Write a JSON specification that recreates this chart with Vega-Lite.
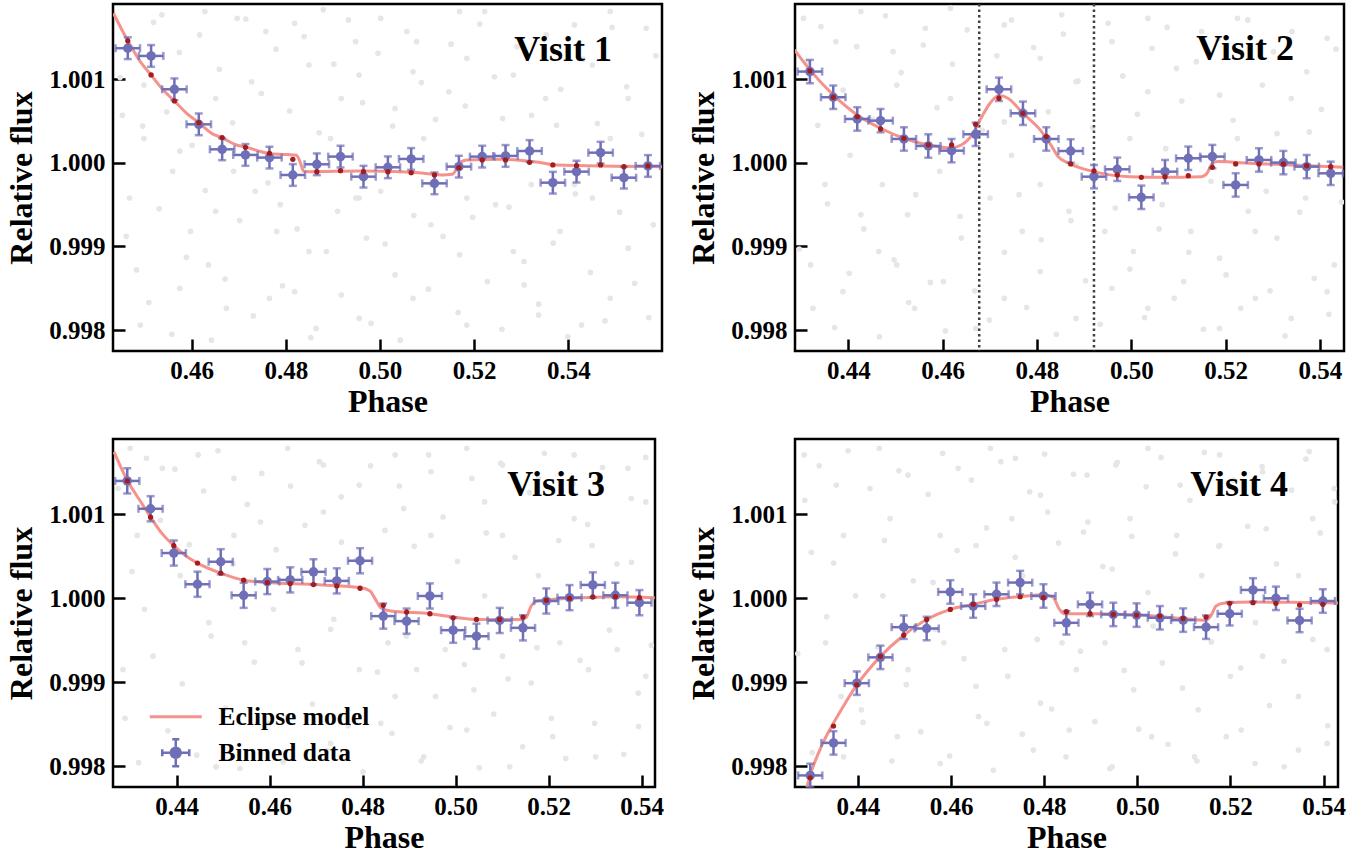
{
  "$schema": "https://vega.github.io/schema/vega-lite/v6.json",
  "padding": {"left": 4, "top": 1, "right": 5, "bottom": 0},
  "background": "white",
  "config": {
    "view": {"stroke": "black", "strokeWidth": 2.5},
    "font": "Liberation Serif",
    "axis": {"domain": false, "grid": false, "ticks": true, "tickColor": "black", "tickWidth": 2.5, "tickSize": -12,
      "labelFont": "Liberation Serif", "labelFontWeight": "bold", "labelFontSize": 25, "labelColor": "black", "labelFlush": false,
      "titleFont": "Liberation Serif", "titleFontWeight": "bold", "titleFontSize": 32, "titleColor": "black"},
    "axisX": {"labelPadding": 19, "titlePadding": 3},
    "axisY": {"labelPadding": 20, "titlePadding": 10},
    "title": {"font": "Liberation Serif", "fontWeight": "bold", "fontSize": 36, "color": "black", "anchor": "end", "offset": -65, "dx": -50, "baseline": "alphabetic", "frame": "group"}
  },
  "resolve": {"scale": {"color": "independent"}, "legend": {"color": "independent"}},
  "bounds": "flush",
  "columns": 2,
  "spacing": {"row": 88, "column": 133},
  "datasets": {
    "gray1": [
      {"x":0.45368,"y":1.00177},{"x":0.46282,"y":1.00181},{"x":0.46968,"y":1.00173},{"x":0.47577,"y":1.00157},{"x":0.48187,"y":1.00167},{"x":0.48796,"y":1.00183},{"x":0.49482,"y":1.00145},{"x":0.50015,"y":1.00173},{"x":0.50777,"y":1.00145},{"x":0.51691,"y":1.00181},{"x":0.52225,"y":1.00181},{"x":0.52834,"y":1.00105},{"x":0.5352,"y":1.00077},{"x":0.5413,"y":1.00165},{"x":0.54891,"y":1.00181},{"x":0.55654,"y":1.00161},{"x":0.4453,"y":1.00057},{"x":0.44987,"y":1.00029},{"x":0.45596,"y":0.9999},{"x":0.44682,"y":0.99958},{"x":0.45977,"y":0.99918},{"x":0.46511,"y":0.99942},{"x":0.47349,"y":0.99966},{"x":0.47806,"y":0.99918},{"x":0.48492,"y":0.99894},{"x":0.49101,"y":0.99942},{"x":0.49711,"y":0.9991},{"x":0.5032,"y":0.99866},{"x":0.51082,"y":0.99926},{"x":0.51691,"y":0.9989},{"x":0.52454,"y":0.9995},{"x":0.53063,"y":0.99854},{"x":0.53825,"y":0.99918},{"x":0.54511,"y":0.99958},{"x":0.55273,"y":0.99898},{"x":0.55806,"y":0.99926},{"x":0.45749,"y":0.9985},{"x":0.46739,"y":0.99826},{"x":0.47653,"y":0.99838},{"x":0.48644,"y":0.99802},{"x":0.49558,"y":0.99814},{"x":0.50701,"y":0.99838},{"x":0.51844,"y":0.99806},{"x":0.53368,"y":0.99818},{"x":0.54891,"y":0.99838},{"x":0.44911,"y":0.99806},{"x":0.46358,"y":0.99878},{"x":0.48187,"y":0.99846},{"x":0.50015,"y":0.99966},{"x":0.52834,"y":0.99894},{"x":0.54282,"y":0.99806},{"x":0.49177,"y":1.00077},{"x":0.5032,"y":1.00065},{"x":0.51463,"y":1.00085},{"x":0.52606,"y":1.00053},{"x":0.53749,"y":1.00045},{"x":0.55273,"y":1.00077},{"x":0.47273,"y":1.00097},{"x":0.48492,"y":1.00117},{"x":0.49558,"y":1.00105},{"x":0.50701,"y":1.00109},{"x":0.51844,"y":1.00125},{"x":0.54511,"y":1.00117},{"x":0.44987,"y":1.00093},{"x":0.46511,"y":1.00077},{"x":0.48949,"y":1.00029},{"x":0.5093,"y":1.00029},{"x":0.54891,"y":1.00029},{"x":0.53215,"y":0.99974},{"x":0.47882,"y":0.9995},{"x":0.46892,"y":0.9999},{"x":0.49558,"y":0.99958},{"x":0.51844,"y":0.99958},{"x":0.5413,"y":0.99974},{"x":0.45749,"y":1.00014},{"x":0.51082,"y":0.99974},
      {"x":0.4448,"y":1.00102},{"x":0.4461,"y":0.99912},{"x":0.4472,"y":1.00138},{"x":0.4483,"y":0.99872},{"x":0.4496,"y":1.00044},{"x":0.4509,"y":0.99833},{"x":0.4519,"y":1.00168},{"x":0.4531,"y":0.99945},{"x":0.4547,"y":1.00061},{"x":0.4558,"y":0.99795},{"x":0.4574,"y":1.00132},{"x":0.4589,"y":0.99887},{"x":0.4601,"y":1.00021},{"x":0.4617,"y":1.00153},{"x":0.4629,"y":0.99967},{"x":0.4642,"y":0.99788},{"x":0.4659,"y":1.00112},{"x":0.4671,"y":0.99861},{"x":0.4687,"y":1.00048},{"x":0.4702,"y":0.99931},{"x":0.4715,"y":1.00172},{"x":0.4731,"y":0.99817},{"x":0.4748,"y":1.00083},{"x":0.4762,"y":0.99976},{"x":0.4779,"y":1.00136},{"x":0.4793,"y":0.99853},{"x":0.4808,"y":1.00062},{"x":0.4824,"y":0.99921},{"x":0.4839,"y":1.00151},{"x":0.4853,"y":0.99791},{"x":0.4871,"y":1.00036},{"x":0.4886,"y":0.99894},{"x":0.4902,"y":1.00118},{"x":0.4918,"y":0.99842},{"x":0.4933,"y":1.00171},{"x":0.4949,"y":0.99958},{"x":0.4963,"y":1.00072},{"x":0.4981,"y":0.99808},{"x":0.4996,"y":1.00131},{"x":0.5011,"y":0.99903},{"x":0.5027,"y":1.00044},{"x":0.5043,"y":0.99788},{"x":0.5057,"y":1.00157},{"x":0.5072,"y":0.99937},{"x":0.5088,"y":1.00096},{"x":0.5103,"y":0.99849},{"x":0.5118,"y":1.00052},{"x":0.5134,"y":0.99912},{"x":0.5151,"y":1.00142},{"x":0.5166,"y":0.99821},{"x":0.5181,"y":1.00068},{"x":0.5197,"y":0.99935},{"x":0.5212,"y":1.00166},{"x":0.5228,"y":0.99858},{"x":0.5243,"y":1.00103},{"x":0.5259,"y":0.99801},{"x":0.5274,"y":0.99947},{"x":0.5291,"y":1.00139},{"x":0.5306,"y":0.99882},{"x":0.5322,"y":1.00057},{"x":0.5337,"y":0.99831},{"x":0.5353,"y":1.00153},{"x":0.5368,"y":0.99904},{"x":0.5384,"y":1.00088},{"x":0.5399,"y":0.99792},{"x":0.5415,"y":0.99963},{"x":0.5431,"y":1.00124},{"x":0.5447,"y":0.99869},{"x":0.5462,"y":1.00047},{"x":0.5478,"y":0.99811},{"x":0.5493,"y":1.00162},{"x":0.5509,"y":0.99941},{"x":0.5524,"y":1.00091},{"x":0.5541,"y":0.99856},{"x":0.5556,"y":1.00034},{"x":0.5571,"y":0.99815},{"x":0.5586,"y":1.00128}
    ],
    "gray2": [
      {"x":0.43049,"y":1.00173},{"x":0.43734,"y":1.00145},{"x":0.44266,"y":1.00181},{"x":0.4495,"y":1.00133},{"x":0.45635,"y":1.00161},{"x":0.46167,"y":1.00185},{"x":0.47308,"y":1.00165},{"x":0.48069,"y":1.00125},{"x":0.48525,"y":1.00177},{"x":0.4959,"y":1.00145},{"x":0.5035,"y":1.00173},{"x":0.50958,"y":1.00113},{"x":0.51491,"y":1.00157},{"x":0.52251,"y":1.00173},{"x":0.53012,"y":1.00133},{"x":0.54153,"y":1.00149},{"x":0.43353,"y":1.00045},{"x":0.44038,"y":1.00009},{"x":0.44722,"y":0.99974},{"x":0.45255,"y":0.99938},{"x":0.45939,"y":0.9999},{"x":0.46395,"y":0.9991},{"x":0.47004,"y":0.99958},{"x":0.4746,"y":1.00009},{"x":0.48069,"y":0.99974},{"x":0.48677,"y":0.99942},{"x":0.49437,"y":0.99918},{"x":0.50046,"y":0.99894},{"x":0.50654,"y":0.9995},{"x":0.51263,"y":0.99918},{"x":0.51871,"y":0.99886},{"x":0.52479,"y":0.99942},{"x":0.53088,"y":0.9991},{"x":0.53696,"y":0.99958},{"x":0.54305,"y":0.99878},{"x":0.43201,"y":0.99878},{"x":0.43886,"y":0.99846},{"x":0.44646,"y":0.99894},{"x":0.45407,"y":0.99826},{"x":0.46015,"y":0.99858},{"x":0.467,"y":0.99802},{"x":0.47308,"y":0.99838},{"x":0.48069,"y":0.9987},{"x":0.48829,"y":0.99814},{"x":0.4959,"y":0.9985},{"x":0.5035,"y":0.99826},{"x":0.51111,"y":0.99858},{"x":0.51871,"y":0.99802},{"x":0.52632,"y":0.99838},{"x":0.53392,"y":0.99814},{"x":0.54153,"y":0.99846},{"x":0.45027,"y":1.00093},{"x":0.46167,"y":1.00077},{"x":0.47308,"y":1.00049},{"x":0.48829,"y":1.00097},{"x":0.5035,"y":1.00085},{"x":0.51871,"y":1.00081},{"x":0.53392,"y":1.00077},{"x":0.43506,"y":0.99974},{"x":0.4997,"y":1.00029},{"x":0.52251,"y":1.00029},{"x":0.53772,"y":1.00037},{"x":0.47688,"y":0.99918},{"x":0.45027,"y":0.99878},{"x":0.5073,"y":1.00017},{"x":0.48829,"y":0.99997},{"x":0.44266,"y":0.99938},{"x":0.5286,"y":0.99966},
      {"x":0.4296,"y":0.99897},{"x":0.4311,"y":1.00121},{"x":0.4325,"y":0.99826},{"x":0.4342,"y":1.00163},{"x":0.4356,"y":0.99951},{"x":0.4371,"y":0.99803},{"x":0.4389,"y":1.00087},{"x":0.4402,"y":0.99868},{"x":0.4418,"y":1.00139},{"x":0.4433,"y":0.99921},{"x":0.4451,"y":1.00052},{"x":0.4466,"y":0.99792},{"x":0.4479,"y":1.00176},{"x":0.4497,"y":0.99884},{"x":0.4512,"y":1.00108},{"x":0.4528,"y":0.99833},{"x":0.4543,"y":0.99962},{"x":0.4559,"y":1.00141},{"x":0.4574,"y":0.99857},{"x":0.4588,"y":1.00066},{"x":0.4606,"y":0.99799},{"x":0.4621,"y":1.00118},{"x":0.4637,"y":0.99936},{"x":0.4652,"y":1.00159},{"x":0.4668,"y":0.99847},{"x":0.4684,"y":1.00039},{"x":0.4699,"y":0.99812},{"x":0.4715,"y":1.00128},{"x":0.4731,"y":0.99893},{"x":0.4746,"y":1.00171},{"x":0.4762,"y":0.99962},{"x":0.4778,"y":0.99827},{"x":0.4793,"y":1.00138},{"x":0.4809,"y":0.99908},{"x":0.4824,"y":1.00061},{"x":0.4841,"y":0.99795},{"x":0.4856,"y":1.00154},{"x":0.4872,"y":0.99931},{"x":0.4887,"y":1.00098},{"x":0.4903,"y":0.99859},{"x":0.4918,"y":1.00042},{"x":0.4934,"y":0.99807},{"x":0.4951,"y":1.00167},{"x":0.4966,"y":0.99946},{"x":0.4982,"y":1.00104},{"x":0.4997,"y":0.99873},{"x":0.5013,"y":1.00058},{"x":0.5028,"y":0.99815},{"x":0.5044,"y":1.00137},{"x":0.5059,"y":0.99921},{"x":0.5076,"y":1.00162},{"x":0.5091,"y":0.99838},{"x":0.5107,"y":1.00074},{"x":0.5122,"y":0.99893},{"x":0.5138,"y":1.00121},{"x":0.5153,"y":0.99801},{"x":0.5169,"y":0.99978},{"x":0.5184,"y":1.00148},{"x":0.5201,"y":0.99866},{"x":0.5216,"y":1.00051},{"x":0.5232,"y":0.99826},{"x":0.5247,"y":1.00171},{"x":0.5263,"y":0.99918},{"x":0.5278,"y":1.00093},{"x":0.5294,"y":0.99847},{"x":0.5309,"y":1.00035},{"x":0.5326,"y":0.99793},{"x":0.5341,"y":1.00157},{"x":0.5357,"y":0.99941},{"x":0.5372,"y":1.00109},{"x":0.5388,"y":0.99862},{"x":0.5403,"y":1.00064},{"x":0.5419,"y":0.99819},{"x":0.5434,"y":1.00136},{"x":0.5446,"y":0.99953}
    ],
    "gray3": [
      {"x":0.42998,"y":1.00179},{"x":0.43692,"y":1.00155},{"x":0.44462,"y":1.00171},{"x":0.45232,"y":1.00143},{"x":0.46388,"y":1.00179},{"x":0.47158,"y":1.00159},{"x":0.47929,"y":1.00135},{"x":0.48699,"y":1.00171},{"x":0.4947,"y":1.00151},{"x":0.5024,"y":1.00179},{"x":0.5101,"y":1.00159},{"x":0.51781,"y":1.00143},{"x":0.52551,"y":1.00171},{"x":0.53707,"y":1.00155},{"x":0.54092,"y":1.00115},{"x":0.43152,"y":1.00075},{"x":0.44077,"y":1.00027},{"x":0.44693,"y":0.99971},{"x":0.45464,"y":0.99947},{"x":0.4608,"y":0.99987},{"x":0.46696,"y":0.99923},{"x":0.47312,"y":0.99963},{"x":0.47929,"y":0.99915},{"x":0.48545,"y":0.99947},{"x":0.49161,"y":0.99915},{"x":0.49778,"y":0.99939},{"x":0.50394,"y":0.99891},{"x":0.5101,"y":0.99931},{"x":0.51627,"y":0.99899},{"x":0.52243,"y":0.99947},{"x":0.52859,"y":0.99915},{"x":0.53476,"y":0.99939},{"x":0.54092,"y":0.99907},{"x":0.43306,"y":0.99987},{"x":0.47544,"y":1.00067},{"x":0.4947,"y":1.00075},{"x":0.5101,"y":1.00075},{"x":0.52936,"y":1.00063},{"x":0.45803,"y":1.00091},{"x":0.47158,"y":1.00103},{"x":0.48884,"y":1.00107},{"x":0.50625,"y":1.00115},{"x":0.52551,"y":1.00095},{"x":0.46388,"y":0.99859},{"x":0.47312,"y":0.99827},{"x":0.48391,"y":0.99851},{"x":0.49316,"y":0.99811},{"x":0.5024,"y":0.99843},{"x":0.51164,"y":0.99799},{"x":0.52089,"y":0.99835},{"x":0.53013,"y":0.99811},{"x":0.53938,"y":0.99847},{"x":0.42844,"y":0.99915},{"x":0.44847,"y":0.99799},{"x":0.45803,"y":0.99815},{"x":0.48699,"y":0.99883},{"x":0.50625,"y":1.00003},{"x":0.51781,"y":1.00027},{"x":0.45232,"y":1.00075},{"x":0.53784,"y":1.00043},
      {"x":0.4274,"y":1.00131},{"x":0.4289,"y":0.99857},{"x":0.4304,"y":1.00032},{"x":0.4318,"y":0.99804},{"x":0.4335,"y":1.00167},{"x":0.4349,"y":0.99931},{"x":0.4365,"y":1.00093},{"x":0.4381,"y":0.99842},{"x":0.4396,"y":1.00154},{"x":0.4412,"y":0.99898},{"x":0.4427,"y":1.00064},{"x":0.4443,"y":0.99813},{"x":0.4458,"y":1.00128},{"x":0.4474,"y":0.99955},{"x":0.4489,"y":1.00176},{"x":0.4505,"y":0.99869},{"x":0.4521,"y":1.00041},{"x":0.4536,"y":0.99797},{"x":0.4552,"y":1.00112},{"x":0.4567,"y":0.99924},{"x":0.4583,"y":1.00149},{"x":0.4598,"y":0.99851},{"x":0.4614,"y":1.00058},{"x":0.4629,"y":0.99805},{"x":0.4645,"y":1.00134},{"x":0.4661,"y":0.99939},{"x":0.4676,"y":1.00087},{"x":0.4692,"y":0.99874},{"x":0.4707,"y":1.00163},{"x":0.4723,"y":0.99818},{"x":0.4738,"y":0.99975},{"x":0.4754,"y":1.00121},{"x":0.4769,"y":0.99848},{"x":0.4786,"y":1.00046},{"x":0.4801,"y":0.99793},{"x":0.4817,"y":1.00158},{"x":0.4832,"y":0.99912},{"x":0.4848,"y":1.00081},{"x":0.4863,"y":0.99839},{"x":0.4879,"y":1.00134},{"x":0.4894,"y":0.99955},{"x":0.4911,"y":1.00062},{"x":0.4926,"y":0.99806},{"x":0.4942,"y":1.00171},{"x":0.4957,"y":0.99883},{"x":0.4973,"y":1.00097},{"x":0.4988,"y":0.99846},{"x":0.5004,"y":1.00044},{"x":0.5019,"y":0.99921},{"x":0.5035,"y":1.00143},{"x":0.5051,"y":0.99798},{"x":0.5066,"y":1.00078},{"x":0.5082,"y":0.99862},{"x":0.5097,"y":1.00161},{"x":0.5113,"y":0.99904},{"x":0.5128,"y":1.00049},{"x":0.5144,"y":0.99823},{"x":0.5159,"y":1.00126},{"x":0.5175,"y":0.99941},{"x":0.5191,"y":1.00173},{"x":0.5206,"y":0.99857},{"x":0.5222,"y":1.00069},{"x":0.5237,"y":0.99809},{"x":0.5253,"y":1.00137},{"x":0.5268,"y":0.99926},{"x":0.5284,"y":1.00088},{"x":0.5299,"y":0.99851},{"x":0.5316,"y":1.00156},{"x":0.5331,"y":0.99962},{"x":0.5347,"y":1.00041},{"x":0.5362,"y":0.99814},{"x":0.5378,"y":1.00119},{"x":0.5393,"y":0.99887},{"x":0.5409,"y":1.00168},{"x":0.5421,"y":0.99944}
    ],
    "gray4": [
      {"x":0.42846,"y":1.00171},{"x":0.43538,"y":1.00135},{"x":0.44461,"y":1.00179},{"x":0.45076,"y":1.00147},{"x":0.46153,"y":1.00155},{"x":0.46846,"y":1.00179},{"x":0.47384,"y":1.00167},{"x":0.47922,"y":1.00123},{"x":0.48922,"y":1.00147},{"x":0.49538,"y":1.00159},{"x":0.5023,"y":1.00179},{"x":0.50922,"y":1.00135},{"x":0.51768,"y":1.00171},{"x":0.52691,"y":1.00151},{"x":0.53691,"y":1.00175},{"x":0.5423,"y":1.00131},{"x":0.43,"y":1.00055},{"x":0.43692,"y":1.00075},{"x":0.44692,"y":1.00095},{"x":0.45769,"y":1.00075},{"x":0.46538,"y":1.00063},{"x":0.47307,"y":1.00095},{"x":0.48076,"y":1.00103},{"x":0.48845,"y":1.00079},{"x":0.49845,"y":1.00095},{"x":0.50845,"y":1.00075},{"x":0.51768,"y":1.00063},{"x":0.52768,"y":1.00083},{"x":0.53768,"y":1.00095},{"x":0.43307,"y":0.99947},{"x":0.44076,"y":0.99867},{"x":0.45076,"y":0.99915},{"x":0.45846,"y":0.99947},{"x":0.46538,"y":0.99895},{"x":0.47153,"y":0.99939},{"x":0.47922,"y":0.99875},{"x":0.48692,"y":0.99915},{"x":0.49307,"y":0.99947},{"x":0.49922,"y":0.99891},{"x":0.50538,"y":0.99923},{"x":0.51307,"y":0.99867},{"x":0.51999,"y":0.99907},{"x":0.52691,"y":0.99931},{"x":0.5346,"y":0.99883},{"x":0.54076,"y":0.99939},{"x":0.43692,"y":0.99811},{"x":0.44846,"y":0.99835},{"x":0.45769,"y":0.99803},{"x":0.46769,"y":0.99851},{"x":0.47769,"y":0.99819},{"x":0.48538,"y":0.99843},{"x":0.49461,"y":0.99799},{"x":0.50307,"y":0.99835},{"x":0.5123,"y":0.99811},{"x":0.5223,"y":0.99843},{"x":0.53153,"y":0.99799},{"x":0.54076,"y":0.99827},{"x":0.45615,"y":1.00019},{"x":0.47538,"y":1.00027},{"x":0.49461,"y":1.00035},{"x":0.51384,"y":1.00027},{"x":0.5346,"y":1.00027},{"x":0.44538,"y":1.00003},{"x":0.5023,"y":1.00007},{"x":0.52538,"y":0.99971},{"x":0.48384,"y":0.99947},
      {"x":0.4271,"y":0.99934},{"x":0.4286,"y":1.00117},{"x":0.4302,"y":0.99816},{"x":0.4317,"y":1.00158},{"x":0.4333,"y":0.99978},{"x":0.4348,"y":1.00042},{"x":0.4364,"y":0.99883},{"x":0.4379,"y":1.00176},{"x":0.4395,"y":1.00003},{"x":0.4411,"y":0.99852},{"x":0.4426,"y":1.00131},{"x":0.4442,"y":0.99942},{"x":0.4457,"y":1.00069},{"x":0.4473,"y":0.99806},{"x":0.4488,"y":1.00152},{"x":0.4504,"y":0.99897},{"x":0.4519,"y":1.00021},{"x":0.4535,"y":0.99841},{"x":0.4551,"y":1.00124},{"x":0.4566,"y":0.99963},{"x":0.4582,"y":1.00173},{"x":0.4597,"y":0.99812},{"x":0.4613,"y":1.00057},{"x":0.4628,"y":0.99928},{"x":0.4644,"y":1.00141},{"x":0.4659,"y":0.99859},{"x":0.4676,"y":1.00084},{"x":0.4691,"y":0.99795},{"x":0.4707,"y":1.00163},{"x":0.4722,"y":0.99907},{"x":0.4738,"y":1.00049},{"x":0.4753,"y":0.99838},{"x":0.4769,"y":1.00127},{"x":0.4785,"y":0.99951},{"x":0.4801,"y":1.00172},{"x":0.4816,"y":0.99868},{"x":0.4831,"y":1.00066},{"x":0.4847,"y":0.99811},{"x":0.4863,"y":1.00148},{"x":0.4878,"y":0.99937},{"x":0.4894,"y":1.00091},{"x":0.4909,"y":0.99853},{"x":0.4926,"y":1.00038},{"x":0.4941,"y":0.99797},{"x":0.4957,"y":1.00162},{"x":0.4972,"y":0.99914},{"x":0.4988,"y":1.00074},{"x":0.5003,"y":0.99844},{"x":0.5019,"y":1.00133},{"x":0.5034,"y":0.99967},{"x":0.5051,"y":1.00168},{"x":0.5066,"y":0.99826},{"x":0.5082,"y":1.00053},{"x":0.5097,"y":0.99893},{"x":0.5113,"y":1.00117},{"x":0.5128,"y":0.99806},{"x":0.5144,"y":1.00174},{"x":0.5159,"y":0.99948},{"x":0.5175,"y":1.00062},{"x":0.5191,"y":0.99835},{"x":0.5206,"y":1.00141},{"x":0.5222,"y":0.99917},{"x":0.5237,"y":1.00086},{"x":0.5253,"y":0.99803},{"x":0.5268,"y":1.00157},{"x":0.5284,"y":0.99872},{"x":0.5299,"y":1.00041},{"x":0.5315,"y":0.99925},{"x":0.5331,"y":1.00129},{"x":0.5346,"y":0.99819},{"x":0.5362,"y":1.00166},{"x":0.5377,"y":0.99951},{"x":0.5393,"y":1.00078},{"x":0.5409,"y":0.99848},{"x":0.5424,"y":1.00115}
    ],
    "bin1": [
      {"x":0.44644,"y":1.001371,"m":1.001459,"xe":0.0026,"ye":0.00013},{"x":0.45139,"y":1.001279,"m":1.001052,"xe":0.0026,"ye":0.00013},{"x":0.45634,"y":1.00088,"m":1.000741,"xe":0.0026,"ye":0.00013},{"x":0.46152,"y":1.000461,"m":1.000481,"xe":0.0026,"ye":0.00013},{"x":0.46648,"y":1.000162,"m":1.000302,"xe":0.0026,"ye":0.00013},{"x":0.47143,"y":1.000095,"m":1.000186,"xe":0.0026,"ye":0.00013},{"x":0.47653,"y":1.000063,"m":1.000114,"xe":0.0026,"ye":0.00013},{"x":0.48149,"y":0.999855,"m":1.000043,"xe":0.0026,"ye":0.00013},{"x":0.48659,"y":0.999983,"m":0.999895,"xe":0.0026,"ye":0.00013},{"x":0.49162,"y":1.000075,"m":0.999907,"xe":0.0026,"ye":0.00013},{"x":0.4965,"y":0.999835,"m":0.999895,"xe":0.0026,"ye":0.00013},{"x":0.50168,"y":0.999947,"m":0.999895,"xe":0.0026,"ye":0.00013},{"x":0.50663,"y":1.000047,"m":0.999883,"xe":0.0026,"ye":0.00013},{"x":0.51158,"y":0.999755,"m":0.999855,"xe":0.0026,"ye":0.00013},{"x":0.51676,"y":0.999955,"m":0.999943,"xe":0.0026,"ye":0.00013},{"x":0.52171,"y":1.000075,"m":1.000035,"xe":0.0026,"ye":0.00013},{"x":0.52667,"y":1.000083,"m":1.000035,"xe":0.0026,"ye":0.00013},{"x":0.53177,"y":1.000142,"m":1.000007,"xe":0.0026,"ye":0.00013},{"x":0.53672,"y":0.999763,"m":0.999975,"xe":0.0026,"ye":0.00013},{"x":0.54175,"y":0.999895,"m":0.999967,"xe":0.0026,"ye":0.00013},{"x":0.54686,"y":1.000122,"m":0.999975,"xe":0.0026,"ye":0.00013},{"x":0.55181,"y":0.999823,"m":0.999955,"xe":0.0026,"ye":0.00013},{"x":0.55691,"y":0.999963,"m":0.999963,"xe":0.0026,"ye":0.00013}
    ],
    "bin2": [
      {"x":0.43186,"y":1.001092,"m":1.0011,"xe":0.0026,"ye":0.00014},{"x":0.43681,"y":1.000785,"m":1.000785,"xe":0.0026,"ye":0.00014},{"x":0.4419,"y":1.000525,"m":1.000553,"xe":0.0026,"ye":0.00014},{"x":0.44684,"y":1.000505,"m":1.000406,"xe":0.0026,"ye":0.00014},{"x":0.45179,"y":1.000286,"m":1.000294,"xe":0.0026,"ye":0.00014},{"x":0.45696,"y":1.000202,"m":1.000214,"xe":0.0026,"ye":0.00014},{"x":0.4619,"y":1.000146,"m":1.000214,"xe":0.0026,"ye":0.00014},{"x":0.467,"y":1.000342,"m":1.000461,"xe":0.0026,"ye":0.00014},{"x":0.47194,"y":1.00088,"m":1.000773,"xe":0.0026,"ye":0.00014},{"x":0.47703,"y":1.000593,"m":1.000593,"xe":0.0026,"ye":0.00014},{"x":0.48198,"y":1.000286,"m":1.000314,"xe":0.0026,"ye":0.00014},{"x":0.48715,"y":1.000142,"m":0.999987,"xe":0.0026,"ye":0.00014},{"x":0.49209,"y":0.999835,"m":0.999903,"xe":0.0026,"ye":0.00014},{"x":0.49703,"y":0.999923,"m":0.999855,"xe":0.0026,"ye":0.00014},{"x":0.50213,"y":0.999588,"m":0.999827,"xe":0.0026,"ye":0.00014},{"x":0.50715,"y":0.999895,"m":0.999835,"xe":0.0026,"ye":0.00014},{"x":0.51209,"y":1.000055,"m":0.999847,"xe":0.0026,"ye":0.00014},{"x":0.51719,"y":1.000075,"m":0.999947,"xe":0.0026,"ye":0.00014},{"x":0.52213,"y":0.999736,"m":0.999987,"xe":0.0026,"ye":0.00014},{"x":0.52707,"y":1.000035,"m":0.999987,"xe":0.0026,"ye":0.00014},{"x":0.53224,"y":1.000003,"m":0.999987,"xe":0.0026,"ye":0.00014},{"x":0.53719,"y":0.999955,"m":0.999967,"xe":0.0026,"ye":0.00014},{"x":0.54228,"y":0.999875,"m":0.999955,"xe":0.0026,"ye":0.00014}
    ],
    "bin3": [
      {"x":0.42937,"y":1.0014,"m":1.0014,"xe":0.0026,"ye":0.00015},{"x":0.43438,"y":1.001068,"m":1.000968,"xe":0.0026,"ye":0.00015},{"x":0.43938,"y":1.00054,"m":1.000628,"xe":0.0026,"ye":0.00015},{"x":0.44447,"y":1.000168,"m":1.00042,"xe":0.0026,"ye":0.00015},{"x":0.44948,"y":1.000436,"m":1.0003,"xe":0.0026,"ye":0.00015},{"x":0.45441,"y":1.000036,"m":1.000216,"xe":0.0026,"ye":0.00015},{"x":0.45949,"y":1.0002,"m":1.000188,"xe":0.0026,"ye":0.00015},{"x":0.46442,"y":1.00022,"m":1.000176,"xe":0.0026,"ye":0.00015},{"x":0.46943,"y":1.000316,"m":1.000164,"xe":0.0026,"ye":0.00015},{"x":0.47444,"y":1.000208,"m":1.000148,"xe":0.0026,"ye":0.00015},{"x":0.47945,"y":1.000448,"m":1.00012,"xe":0.0026,"ye":0.00015},{"x":0.48445,"y":0.999788,"m":0.999916,"xe":0.0026,"ye":0.00015},{"x":0.48946,"y":0.999728,"m":0.999836,"xe":0.0026,"ye":0.00015},{"x":0.49447,"y":1.000028,"m":0.999816,"xe":0.0026,"ye":0.00015},{"x":0.49948,"y":0.99962,"m":0.999768,"xe":0.0026,"ye":0.00015},{"x":0.50449,"y":0.999548,"m":0.999748,"xe":0.0026,"ye":0.00015},{"x":0.50949,"y":0.999736,"m":0.999748,"xe":0.0026,"ye":0.00015},{"x":0.5145,"y":0.999648,"m":0.999776,"xe":0.0026,"ye":0.00015},{"x":0.51951,"y":0.999968,"m":0.999976,"xe":0.0026,"ye":0.00015},{"x":0.52451,"y":1.000008,"m":1.0,"xe":0.0026,"ye":0.00015},{"x":0.52952,"y":1.00016,"m":1.000016,"xe":0.0026,"ye":0.00015},{"x":0.53438,"y":1.000036,"m":1.00002,"xe":0.0026,"ye":0.00015},{"x":0.53954,"y":0.999948,"m":1.000008,"xe":0.0026,"ye":0.00015}
    ],
    "bin4": [
      {"x":0.42977,"y":0.997888,"m":0.99786,"xe":0.0026,"ye":0.00014},{"x":0.43477,"y":0.998276,"m":0.998476,"xe":0.0026,"ye":0.00014},{"x":0.43977,"y":0.998988,"m":0.998968,"xe":0.0026,"ye":0.00014},{"x":0.44485,"y":0.999296,"m":0.999308,"xe":0.0026,"ye":0.00014},{"x":0.44985,"y":0.999656,"m":0.99956,"xe":0.0026,"ye":0.00014},{"x":0.45477,"y":0.99964,"m":0.999748,"xe":0.0026,"ye":0.00014},{"x":0.45985,"y":1.000076,"m":0.999868,"xe":0.0026,"ye":0.00014},{"x":0.46477,"y":0.999908,"m":0.999928,"xe":0.0026,"ye":0.00014},{"x":0.46977,"y":1.000048,"m":0.999988,"xe":0.0026,"ye":0.00014},{"x":0.47485,"y":1.000188,"m":1.00002,"xe":0.0026,"ye":0.00014},{"x":0.47985,"y":1.000028,"m":1.000008,"xe":0.0026,"ye":0.00014},{"x":0.48477,"y":0.999708,"m":0.99984,"xe":0.0026,"ye":0.00014},{"x":0.48985,"y":0.999928,"m":0.999816,"xe":0.0026,"ye":0.00014},{"x":0.49485,"y":0.999808,"m":0.999808,"xe":0.0026,"ye":0.00014},{"x":0.49985,"y":0.9998,"m":0.9998,"xe":0.0026,"ye":0.00014},{"x":0.50485,"y":0.999768,"m":0.999788,"xe":0.0026,"ye":0.00014},{"x":0.50985,"y":0.99974,"m":0.99976,"xe":0.0026,"ye":0.00014},{"x":0.51477,"y":0.999656,"m":0.999776,"xe":0.0026,"ye":0.00014},{"x":0.51985,"y":0.999816,"m":0.99994,"xe":0.0026,"ye":0.00014},{"x":0.52485,"y":1.0001,"m":0.999948,"xe":0.0026,"ye":0.00014},{"x":0.52977,"y":1.0,"m":0.99994,"xe":0.0026,"ye":0.00014},{"x":0.53485,"y":0.999736,"m":0.99992,"xe":0.0026,"ye":0.00014},{"x":0.53985,"y":0.999968,"m":0.999928,"xe":0.0026,"ye":0.00014}
    ],
    "model1": [
      {"x":0.44339,"y":1.00179},{"x":0.44644,"y":1.00146},{"x":0.4491,"y":1.00121},{"x":0.45139,"y":1.00105},{"x":0.45368,"y":1.00089},{"x":0.45634,"y":1.00074},{"x":0.45901,"y":1.00059},{"x":0.46152,"y":1.00048},{"x":0.46434,"y":1.00035},{"x":0.46648,"y":1.0003},{"x":0.46968,"y":1.00021},{"x":0.47143,"y":1.00019},{"x":0.47501,"y":1.00013},{"x":0.47653,"y":1.00011},{"x":0.48034,"y":1.0001},{"x":0.48225,"y":1.00009},{"x":0.48301,"y":1.000015},{"x":0.48377,"y":0.999903},{"x":0.48491,"y":0.999895},{"x":0.49558,"y":0.999903},{"x":0.50701,"y":0.999887},{"x":0.5131,"y":0.999855},{"x":0.51539,"y":0.999863},{"x":0.51615,"y":0.999915},{"x":0.5173,"y":1.000015},{"x":0.51844,"y":1.000035},{"x":0.52606,"y":1.000043},{"x":0.53368,"y":1.000007},{"x":0.53749,"y":0.999975},{"x":0.55996,"y":0.999955}
    ],
    "model2": [
      {"x":0.42859,"y":1.001351},{"x":0.43186,"y":1.001112},{"x":0.43681,"y":1.000813},{"x":0.4419,"y":1.000573},{"x":0.44684,"y":1.000414},{"x":0.45179,"y":1.000294},{"x":0.45696,"y":1.000214},{"x":0.46167,"y":1.00018},{"x":0.46395,"y":1.000214},{"x":0.46624,"y":1.000334},{"x":0.46814,"y":1.000533},{"x":0.47004,"y":1.000713},{"x":0.47194,"y":1.000805},{"x":0.47384,"y":1.000773},{"x":0.47703,"y":1.000593},{"x":0.48068,"y":1.000394},{"x":0.48297,"y":1.000214},{"x":0.48449,"y":1.000075},{"x":0.48677,"y":0.999995},{"x":0.49209,"y":0.999895},{"x":0.4997,"y":0.999835},{"x":0.5073,"y":0.999827},{"x":0.5149,"y":0.999835},{"x":0.51605,"y":0.999875},{"x":0.51719,"y":0.999995},{"x":0.51833,"y":1.000015},{"x":0.52631,"y":0.999991},{"x":0.53392,"y":0.999975},{"x":0.54494,"y":0.999947}
    ],
    "model3": [
      {"x":0.42652,"y":1.001748},{"x":0.42937,"y":1.001408},{"x":0.4323,"y":1.001148},{"x":0.43438,"y":1.000968},{"x":0.43692,"y":1.000768},{"x":0.43938,"y":1.000628},{"x":0.44193,"y":1.000508},{"x":0.44447,"y":1.00042},{"x":0.44948,"y":1.0003},{"x":0.45441,"y":1.000216},{"x":0.45949,"y":1.000188},{"x":0.46943,"y":1.000164},{"x":0.47945,"y":1.000128},{"x":0.4816,"y":1.000088},{"x":0.48276,"y":0.999988},{"x":0.48391,"y":0.999888},{"x":0.48545,"y":0.999856},{"x":0.49447,"y":0.999816},{"x":0.50449,"y":0.999748},{"x":0.51396,"y":0.999748},{"x":0.51512,"y":0.999768},{"x":0.51627,"y":0.999908},{"x":0.51743,"y":0.999968},{"x":0.52451,"y":1.0},{"x":0.53438,"y":1.00002},{"x":0.54285,"y":1.000008}
    ],
    "model4": [
      {"x":0.4286,"y":0.99765},{"x":0.42977,"y":0.997892},{"x":0.43231,"y":0.998252},{"x":0.43477,"y":0.998512},{"x":0.43731,"y":0.998752},{"x":0.43977,"y":0.998968},{"x":0.44231,"y":0.999148},{"x":0.44485,"y":0.999308},{"x":0.44985,"y":0.99956},{"x":0.45477,"y":0.999748},{"x":0.45985,"y":0.999868},{"x":0.46477,"y":0.999928},{"x":0.46977,"y":0.999988},{"x":0.47485,"y":1.00002},{"x":0.48,"y":1.000044},{"x":0.48192,"y":1.000012},{"x":0.48308,"y":0.999888},{"x":0.48423,"y":0.999816},{"x":0.48985,"y":0.999816},{"x":0.49985,"y":0.9998},{"x":0.50985,"y":0.99976},{"x":0.51462,"y":0.99974},{"x":0.51577,"y":0.999788},{"x":0.51692,"y":0.999908},{"x":0.51846,"y":0.99994},{"x":0.52485,"y":0.999956},{"x":0.53308,"y":0.999952},{"x":0.54308,"y":0.999944}
    ],
    "vlines2": [{"x":0.46776},{"x":0.49209}],
    "legend3": [{"series":"Eclipse model"},{"series":"Binned data"}]
  },
  "concat": [
    {
      "width": 549, "height": 347,
      "title": {"text": "Visit 1"},
      "layer": [
        {"data": {"name": "gray1"}, "mark": {"type": "point", "filled": true, "color": "#e6e6e6", "size": 32, "opacity": 1, "clip": true},
         "encoding": {"x": {"field": "x", "type": "quantitative", "title": "Phase", "scale": {"domain": [0.4433, 0.5599], "nice": false, "zero": false}, "axis": {"values": [0.46, 0.48, 0.50, 0.52, 0.54], "format": ".2f"}},
                      "y": {"field": "y", "type": "quantitative", "title": "Relative flux", "scale": {"domain": [0.99775, 1.0019], "nice": false, "zero": false}, "axis": {"values": [0.998, 0.999, 1.0, 1.001], "format": ".3f"}}}},
        {"data": {"name": "model1"}, "mark": {"type": "line", "color": "#f5928c", "strokeWidth": 3, "clip": true, "interpolate": "monotone"},
         "encoding": {"x": {"field": "x", "type": "quantitative", "title": "Phase"}, "y": {"field": "y", "type": "quantitative", "title": "Relative flux"}}},
        {"data": {"name": "bin1"}, "mark": {"type": "errorbar", "color": "#6f6fb8", "thickness": 2.5, "ticks": {"size": 8}},
         "encoding": {"x": {"field": "x", "type": "quantitative", "title": "Phase"}, "xError": {"field": "xe"}, "y": {"field": "y", "type": "quantitative", "title": "Relative flux"}}},
        {"data": {"name": "bin1"}, "mark": {"type": "errorbar", "color": "#6f6fb8", "thickness": 2.5, "ticks": {"size": 8}},
         "encoding": {"y": {"field": "y", "type": "quantitative", "title": "Relative flux"}, "yError": {"field": "ye"}, "x": {"field": "x", "type": "quantitative", "title": "Phase"}}},
        {"data": {"name": "bin1"}, "mark": {"type": "point", "filled": true, "color": "#6f6fb8", "size": 90, "opacity": 1},
         "encoding": {"x": {"field": "x", "type": "quantitative", "title": "Phase"}, "y": {"field": "y", "type": "quantitative", "title": "Relative flux"}}},
        {"data": {"name": "bin1"}, "mark": {"type": "point", "filled": true, "color": "#a51c1c", "size": 28, "opacity": 1},
         "encoding": {"x": {"field": "x", "type": "quantitative", "title": "Phase"}, "y": {"field": "m", "type": "quantitative", "title": "Relative flux"}}}
      ]
    },
    {
      "width": 549, "height": 347,
      "title": {"text": "Visit 2"},
      "layer": [
        {"data": {"name": "gray2"}, "mark": {"type": "point", "filled": true, "color": "#e6e6e6", "size": 32, "opacity": 1, "clip": true},
         "encoding": {"x": {"field": "x", "type": "quantitative", "title": "Phase", "scale": {"domain": [0.4287, 0.5451], "nice": false, "zero": false}, "axis": {"values": [0.44, 0.46, 0.48, 0.50, 0.52, 0.54], "format": ".2f"}},
                      "y": {"field": "y", "type": "quantitative", "title": "Relative flux", "scale": {"domain": [0.99775, 1.0019], "nice": false, "zero": false}, "axis": {"values": [0.998, 0.999, 1.0, 1.001], "format": ".3f"}}}},
        {"data": {"name": "vlines2"}, "mark": {"type": "rule", "color": "#404040", "strokeWidth": 2.5, "strokeDash": [2.5, 3]},
         "encoding": {"x": {"field": "x", "type": "quantitative", "title": "Phase"}}},
        {"data": {"name": "model2"}, "mark": {"type": "line", "color": "#f5928c", "strokeWidth": 3, "clip": true, "interpolate": "monotone"},
         "encoding": {"x": {"field": "x", "type": "quantitative", "title": "Phase"}, "y": {"field": "y", "type": "quantitative", "title": "Relative flux"}}},
        {"data": {"name": "bin2"}, "mark": {"type": "errorbar", "color": "#6f6fb8", "thickness": 2.5, "ticks": {"size": 8}},
         "encoding": {"x": {"field": "x", "type": "quantitative", "title": "Phase"}, "xError": {"field": "xe"}, "y": {"field": "y", "type": "quantitative", "title": "Relative flux"}}},
        {"data": {"name": "bin2"}, "mark": {"type": "errorbar", "color": "#6f6fb8", "thickness": 2.5, "ticks": {"size": 8}},
         "encoding": {"y": {"field": "y", "type": "quantitative", "title": "Relative flux"}, "yError": {"field": "ye"}, "x": {"field": "x", "type": "quantitative", "title": "Phase"}}},
        {"data": {"name": "bin2"}, "mark": {"type": "point", "filled": true, "color": "#6f6fb8", "size": 90, "opacity": 1},
         "encoding": {"x": {"field": "x", "type": "quantitative", "title": "Phase"}, "y": {"field": "y", "type": "quantitative", "title": "Relative flux"}}},
        {"data": {"name": "bin2"}, "mark": {"type": "point", "filled": true, "color": "#a51c1c", "size": 28, "opacity": 1},
         "encoding": {"x": {"field": "x", "type": "quantitative", "title": "Phase"}, "y": {"field": "m", "type": "quantitative", "title": "Relative flux"}}}
      ]
    },
    {
      "width": 542, "height": 348,
      "title": {"text": "Visit 3"},
      "layer": [
        {"data": {"name": "gray3"}, "mark": {"type": "point", "filled": true, "color": "#e6e6e6", "size": 32, "opacity": 1, "clip": true},
         "encoding": {"x": {"field": "x", "type": "quantitative", "title": "Phase", "scale": {"domain": [0.4263, 0.5429], "nice": false, "zero": false}, "axis": {"values": [0.44, 0.46, 0.48, 0.50, 0.52, 0.54], "format": ".2f"}},
                      "y": {"field": "y", "type": "quantitative", "title": "Relative flux", "scale": {"domain": [0.99775, 1.0019], "nice": false, "zero": false}, "axis": {"values": [0.998, 0.999, 1.0, 1.001], "format": ".3f"}}}},
        {"data": {"name": "model3"}, "mark": {"type": "line", "color": "#f5928c", "strokeWidth": 3, "clip": true, "interpolate": "monotone"},
         "encoding": {"x": {"field": "x", "type": "quantitative", "title": "Phase"}, "y": {"field": "y", "type": "quantitative", "title": "Relative flux"}}},
        {"data": {"name": "bin3"}, "mark": {"type": "errorbar", "color": "#6f6fb8", "thickness": 2.5, "ticks": {"size": 8}},
         "encoding": {"x": {"field": "x", "type": "quantitative", "title": "Phase"}, "xError": {"field": "xe"}, "y": {"field": "y", "type": "quantitative", "title": "Relative flux"}}},
        {"data": {"name": "bin3"}, "mark": {"type": "errorbar", "color": "#6f6fb8", "thickness": 2.5, "ticks": {"size": 8}},
         "encoding": {"y": {"field": "y", "type": "quantitative", "title": "Relative flux"}, "yError": {"field": "ye"}, "x": {"field": "x", "type": "quantitative", "title": "Phase"}}},
        {"data": {"name": "bin3"}, "mark": {"type": "point", "filled": true, "color": "#6f6fb8", "size": 90, "opacity": 1},
         "encoding": {"x": {"field": "x", "type": "quantitative", "title": "Phase"}, "y": {"field": "y", "type": "quantitative", "title": "Relative flux"}}},
        {"data": {"name": "bin3"}, "mark": {"type": "point", "filled": true, "color": "#a51c1c", "size": 28, "opacity": 1},
         "encoding": {"x": {"field": "x", "type": "quantitative", "title": "Phase"}, "y": {"field": "m", "type": "quantitative", "title": "Relative flux"}}},
        {"data": {"name": "legend3"}, "mark": {"type": "point", "filled": true, "opacity": 0},
         "encoding": {"color": {"field": "series", "type": "nominal", "scale": {"domain": ["Eclipse model", "Binned data"], "range": ["#f5928c", "#6f6fb8"]},
           "legend": {"orient": "none", "legendX": 50, "legendY": 265, "title": null, "padding": 0,
             "labelFont": "Liberation Serif", "labelFontWeight": "bold", "labelFontSize": 25.5, "labelColor": "black", "labelLimit": 400,
             "labelOffset": 30, "symbolSize": 400, "symbolOpacity": 1, "rowPadding": 3,
             "encode": {"symbols": {"update": {
               "shape": {"signal": "datum.value == 'Eclipse model' ? 'M-2.6,0H2.6' : 'M-1.35,0H1.35M0,-1.35V1.35M-1.35,-0.35V0.35M1.35,-0.35V0.35M-0.35,-1.35H0.35M-0.35,1.35H0.35M-0.5,0A0.5,0.5,0,1,0,0.5,0A0.5,0.5,0,1,0,-0.5,0Z'"},
               "fill": {"signal": "datum.value == 'Eclipse model' ? 'transparent' : '#6f6fb8'"},
               "stroke": {"signal": "datum.value == 'Eclipse model' ? '#f5928c' : '#6f6fb8'"},
               "strokeWidth": {"signal": "datum.value == 'Eclipse model' ? 3 : 2.5"},
               "opacity": {"value": 1}
             }}}}}}}
      ]
    },
    {
      "width": 543, "height": 348,
      "title": {"text": "Visit 4"},
      "layer": [
        {"data": {"name": "gray4"}, "mark": {"type": "point", "filled": true, "color": "#e6e6e6", "size": 32, "opacity": 1, "clip": true},
         "encoding": {"x": {"field": "x", "type": "quantitative", "title": "Phase", "scale": {"domain": [0.4265, 0.5431], "nice": false, "zero": false}, "axis": {"values": [0.44, 0.46, 0.48, 0.50, 0.52, 0.54], "format": ".2f"}},
                      "y": {"field": "y", "type": "quantitative", "title": "Relative flux", "scale": {"domain": [0.99775, 1.0019], "nice": false, "zero": false}, "axis": {"values": [0.998, 0.999, 1.0, 1.001], "format": ".3f"}}}},
        {"data": {"name": "model4"}, "mark": {"type": "line", "color": "#f5928c", "strokeWidth": 3, "clip": true, "interpolate": "monotone"},
         "encoding": {"x": {"field": "x", "type": "quantitative", "title": "Phase"}, "y": {"field": "y", "type": "quantitative", "title": "Relative flux"}}},
        {"data": {"name": "bin4"}, "mark": {"type": "errorbar", "color": "#6f6fb8", "thickness": 2.5, "ticks": {"size": 8}},
         "encoding": {"x": {"field": "x", "type": "quantitative", "title": "Phase"}, "xError": {"field": "xe"}, "y": {"field": "y", "type": "quantitative", "title": "Relative flux"}}},
        {"data": {"name": "bin4"}, "mark": {"type": "errorbar", "color": "#6f6fb8", "thickness": 2.5, "ticks": {"size": 8}},
         "encoding": {"y": {"field": "y", "type": "quantitative", "title": "Relative flux"}, "yError": {"field": "ye"}, "x": {"field": "x", "type": "quantitative", "title": "Phase"}}},
        {"data": {"name": "bin4"}, "mark": {"type": "point", "filled": true, "color": "#6f6fb8", "size": 90, "opacity": 1},
         "encoding": {"x": {"field": "x", "type": "quantitative", "title": "Phase"}, "y": {"field": "y", "type": "quantitative", "title": "Relative flux"}}},
        {"data": {"name": "bin4"}, "mark": {"type": "point", "filled": true, "color": "#a51c1c", "size": 28, "opacity": 1},
         "encoding": {"x": {"field": "x", "type": "quantitative", "title": "Phase"}, "y": {"field": "m", "type": "quantitative", "title": "Relative flux"}}}
      ]
    }
  ]
}
